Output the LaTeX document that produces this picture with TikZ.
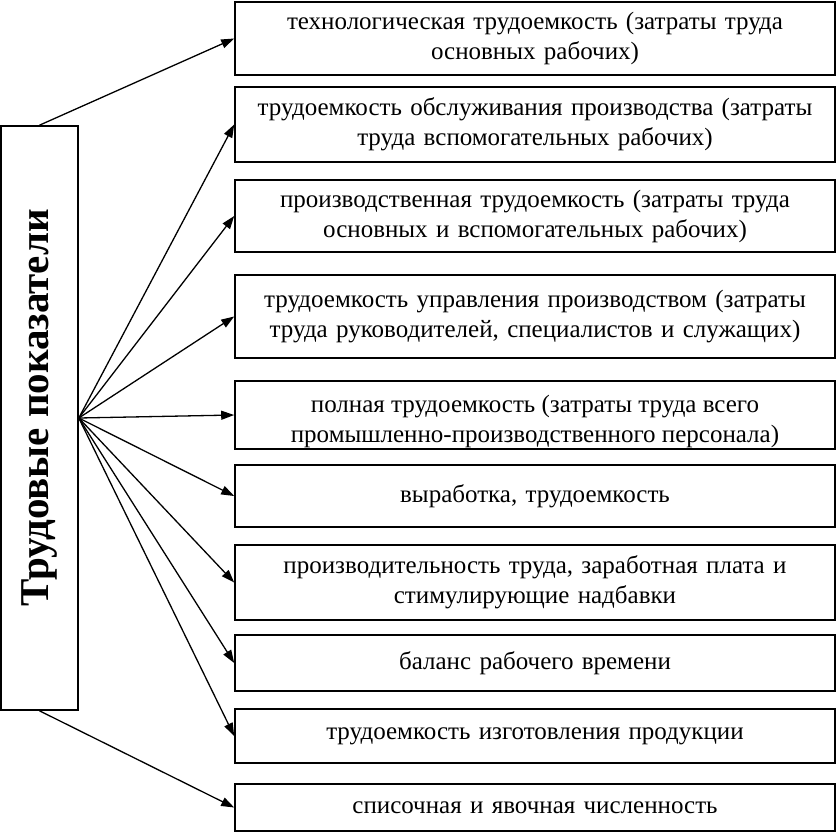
\documentclass[tikz,border=0pt]{standalone}
\usepackage{fontspec}
\setmainfont{Liberation Serif}
\usetikzlibrary{arrows.meta}
\begin{document}
\begin{tikzpicture}[x=1pt,y=-1pt,
  box/.style={draw,line width=1.6pt,minimum width=600pt,text width=595pt,align=center,
    font=\fontsize{25}{30}\selectfont,inner sep=0pt},
  arr/.style={line width=1.3pt,-{Triangle[length=13pt,width=9pt]}}]
\useasboundingbox (0,0) rectangle (837,833);
\node[draw,line width=1.6pt,minimum width=77pt,minimum height=584pt,inner sep=0pt] (L) at (39.5,418) {};
\node[rotate=90,font=\bfseries\fontsize{41}{48}\selectfont] (Lt) at (40,408) {Трудовые показатели};
\node[box,minimum height=73pt] (b1) at (535,38.5) {технологическая трудоемкость (затраты труда\\основных рабочих)};
\node[box,minimum height=75pt] (b2) at (535,124.5) {трудоемкость обслуживания производства (затраты\\труда вспомогательных рабочих)};
\node[box,minimum height=72pt] (b3) at (535,216) {производственная трудоемкость (затраты труда\\основных и вспомогательных рабочих)};
\node[box,minimum height=83pt] (b4) at (535,316.5) {трудоемкость управления производством (затраты\\труда руководителей, специалистов и служащих)};
\node[box,minimum height=68pt] (b5) at (535,415) {};
\node[font=\fontsize{25}{30}\selectfont,align=center,inner sep=0pt] (b5t) at (535,421) {полная трудоемкость (затраты труда всего\\промышленно-производственного персонала)};
\node[box,minimum height=62pt] (b6) at (535,496) {выработка, трудоемкость};
\node[box,minimum height=75pt] (b7) at (535,582.5) {производительность труда, заработная плата и\\стимулирующие надбавки};
\node[box,minimum height=56pt] (b8) at (535,663) {баланс рабочего времени};
\node[box,minimum height=54pt] (b9) at (535,736) {трудоемкость изготовления продукции};
\node[box,minimum height=47pt] (b10) at (535,807.5) {списочная и явочная численность};
\draw[arr] (L.north) -- (b1.west);
\draw[arr] (L.south) -- (b10.west);
\foreach \b in {b2,b3,b4,b5,b6,b7,b8,b9} \draw[arr] (L.east) -- (\b.west);
\end{tikzpicture}
\end{document}
